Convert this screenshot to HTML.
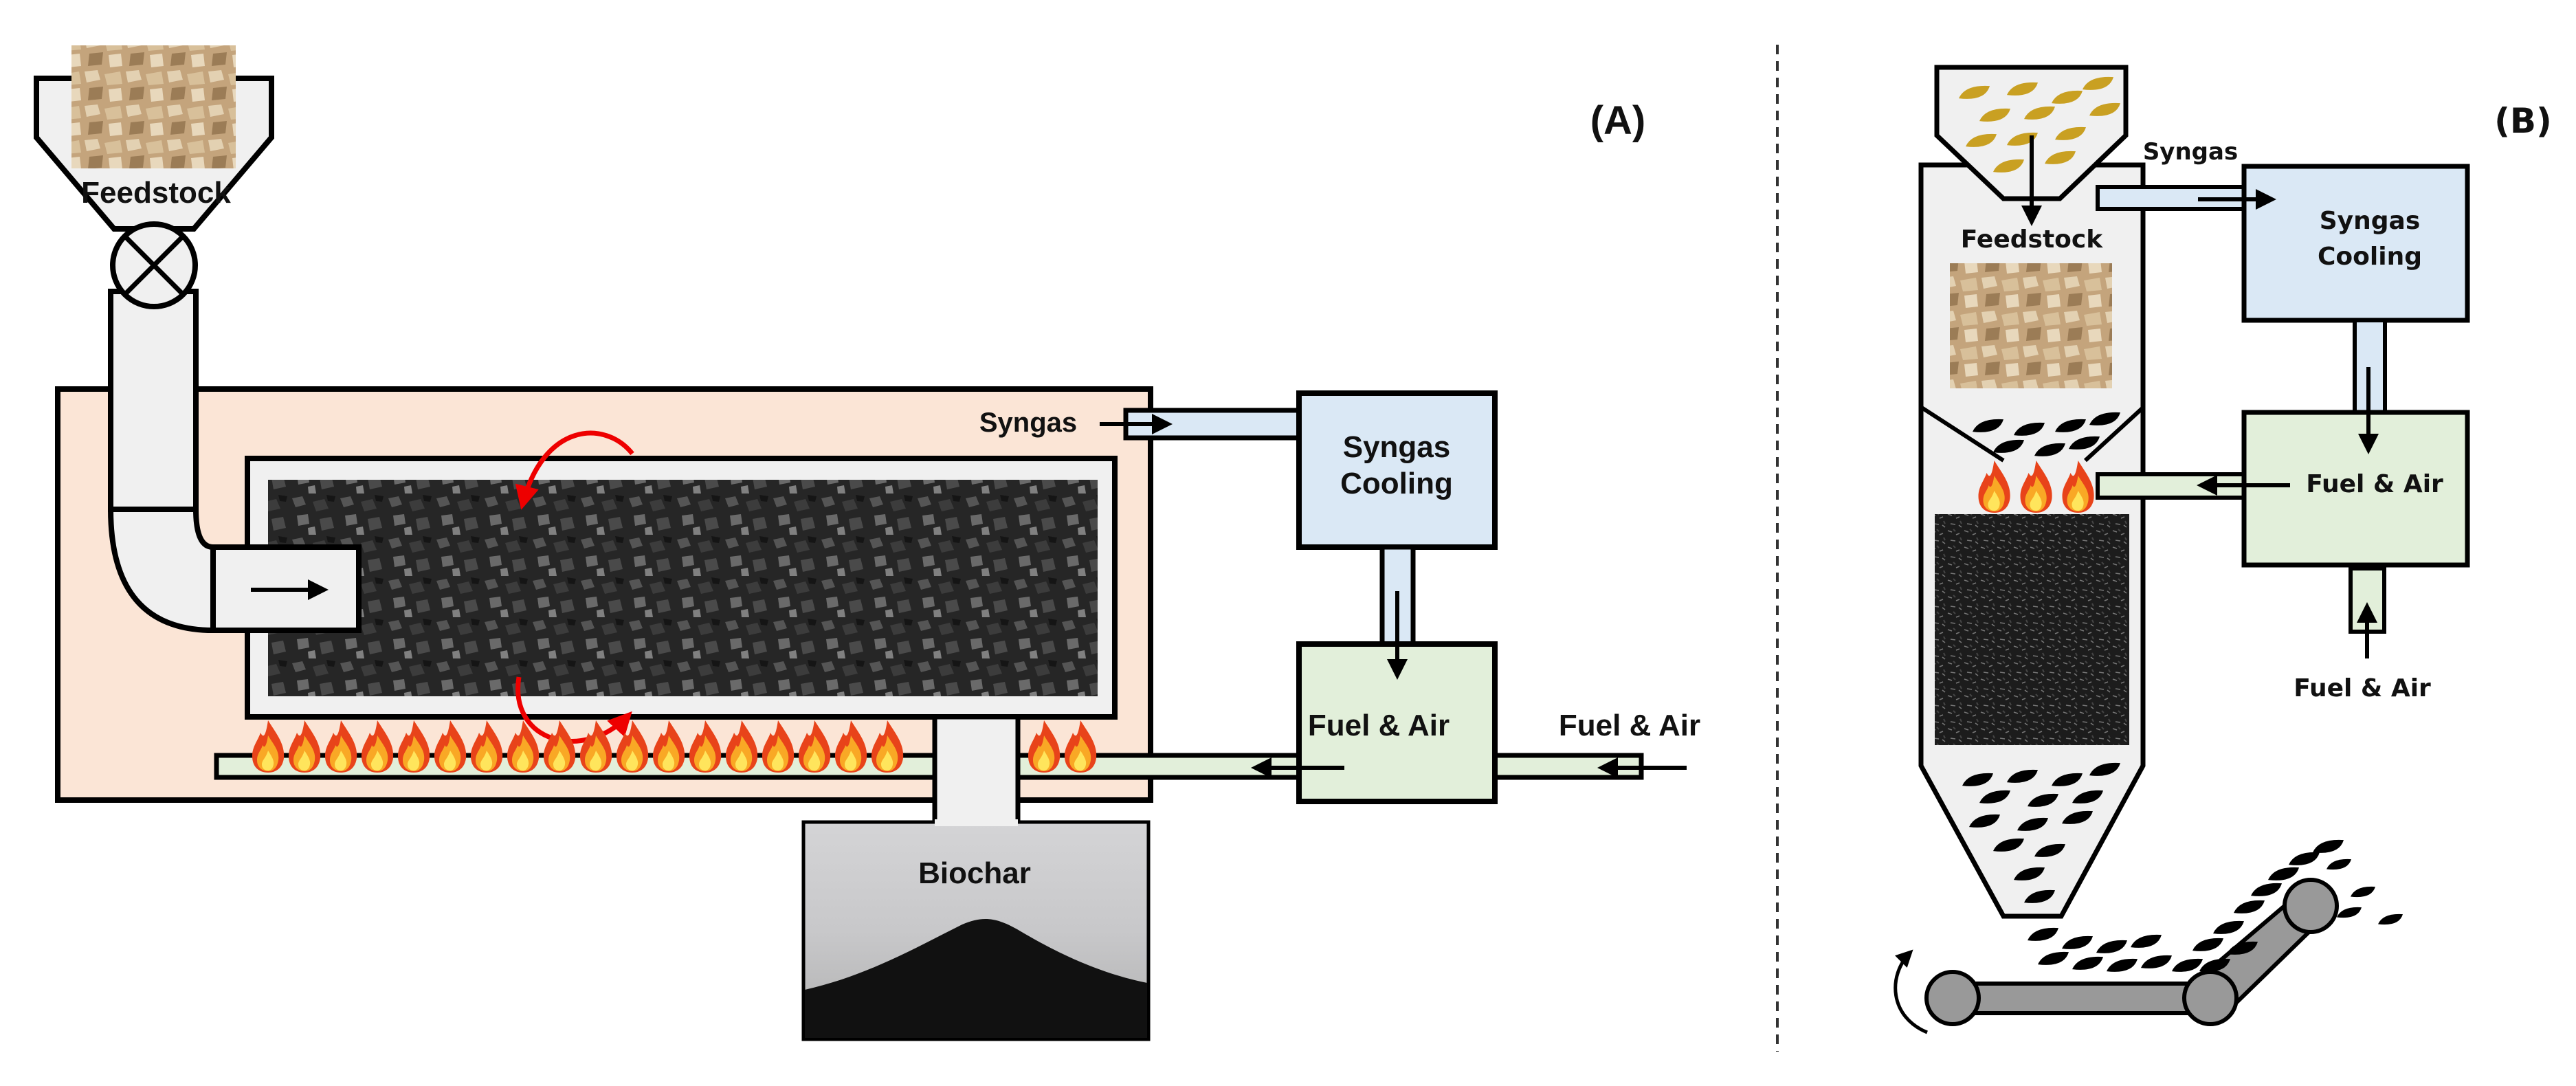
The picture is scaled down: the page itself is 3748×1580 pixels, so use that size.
<!DOCTYPE html>
<html><head><meta charset="utf-8"><style>
html,body{margin:0;padding:0;background:#fff}
svg{display:block}
.a{font-family:"Liberation Sans",sans-serif;font-weight:bold;fill:#111}
.b{font-family:"DejaVu Sans","Liberation Sans",sans-serif;font-weight:bold;fill:#111}
</style></head><body>
<svg width="3748" height="1580" viewBox="0 0 3748 1580" xmlns="http://www.w3.org/2000/svg">
<defs>
<pattern id="coal" width="70" height="60" patternUnits="userSpaceOnUse">
<rect width="70" height="60" fill="#262626"/>
<polygon points="5,5 20,2 25,14 10,18" fill="#555"/>
<polygon points="35,10 52,6 58,20 40,24" fill="#3c3c3c"/>
<polygon points="12,30 28,28 30,42 14,45" fill="#6a6a6a"/>
<polygon points="45,35 62,32 66,48 48,52" fill="#4a4a4a"/>
<polygon points="28,48 38,46 40,58 29,58" fill="#808080"/>
<polygon points="55,0 68,2 66,10 57,9" fill="#151515"/>
</pattern>
<pattern id="coal2" width="24" height="24" patternUnits="userSpaceOnUse">
<rect width="24" height="24" fill="#1c1c1c"/>
<path d="M2,4 l6,2 M14,10 l5,-2 M6,18 l7,1 M18,20 l4,3" stroke="#777" stroke-width="1.5"/>
<path d="M10,2 l3,3 M20,14 l2,4" stroke="#444" stroke-width="2"/>
</pattern>
<pattern id="wood" width="60" height="50" patternUnits="userSpaceOnUse">
<rect width="60" height="50" fill="#c4a47c"/>
<polygon points="3,4 22,2 26,16 6,20" fill="#e3d1b2"/>
<polygon points="32,8 55,4 58,22 36,24" fill="#d8c09a"/>
<polygon points="10,28 30,26 28,44 8,46" fill="#9b7c56"/>
<polygon points="38,30 56,28 58,46 40,48" fill="#e8d8bc"/>
</pattern>
<linearGradient id="bg" x1="0" y1="0" x2="0" y2="1">
<stop offset="0" stop-color="#d4d4d6"/><stop offset="0.5" stop-color="#c8c8ca"/><stop offset="1" stop-color="#b0b0b0"/>
</linearGradient>
<symbol id="fl" viewBox="0 0 50 76" overflow="visible">
<path d="M25,0 C36,18 50,34 48,55 C46,70 36,76 25,76 C12,76 2,68 2,52 C2,38 10,30 14,18 C19,28 22,20 25,0Z" fill="#e8431a"/>
<path d="M25,22 C32,34 42,44 40,58 C38,70 32,74 25,74 C16,74 9,68 9,58 C9,48 15,44 17,36 C20,42 23,36 25,22Z" fill="#f9a825"/>
<path d="M25,44 C30,52 34,58 33,64 C32,71 28,73 25,73 C20,73 16,70 16,64 C16,58 22,55 25,44Z" fill="#ffe55c"/>
</symbol>
<symbol id="lf" viewBox="0 0 40 22" overflow="visible">
<path d="M0,16 Q8,-2 40,0 Q34,20 0,16Z"/>
</symbol>
<marker id="ah" viewBox="0 0 10 10" refX="8" refY="5" markerWidth="5" markerHeight="5" orient="auto"><path d="M0,0 L10,5 L0,10Z" fill="#000"/></marker>
<marker id="ahr" viewBox="0 0 10 10" refX="8" refY="5" markerWidth="5" markerHeight="5" orient="auto"><path d="M0,0 L10,5 L0,10Z" fill="#e00"/></marker>
</defs>

<!-- ===== A ===== -->
<rect x="84" y="566" width="1590" height="598" fill="#fbe5d6" stroke="#000" stroke-width="8"/>
<rect x="360" y="667" width="1262" height="376" fill="#f0f0f0" stroke="#000" stroke-width="8"/>
<rect x="390" y="698" width="1207" height="315" fill="url(#coal)"/>
<polygon points="53,114 395,114 395,200 282,333 166,333 53,200" fill="#f0f0f0" stroke="#000" stroke-width="8"/>
<rect x="104" y="66" width="239" height="179" fill="url(#wood)"/>
<text x="227" y="295" class="a" font-size="44" text-anchor="middle">Feedstock</text>
<rect x="161" y="424" width="124" height="317" fill="#f0f0f0" stroke="#000" stroke-width="8"/>
<path d="M161,741 L285,741 Q285,796 310,796 L310,917 Q161,917 161,741Z" fill="#f0f0f0" stroke="#000" stroke-width="8"/>
<circle cx="224" cy="386" r="60" fill="#f0f0f0" stroke="#000" stroke-width="8"/>
<path d="M182,344 L266,428 M266,344 L182,428" stroke="#000" stroke-width="7"/>
<rect x="310" y="796" width="212" height="121" fill="#f0f0f0" stroke="#000" stroke-width="8"/>
<path d="M920,660 C880,610 790,615 760,735" fill="none" stroke="#e00" stroke-width="7" marker-end="url(#ahr)"/>
<path d="M755,985 C740,1080 850,1110 915,1040" fill="none" stroke="#e00" stroke-width="7" marker-end="url(#ahr)"/>
<rect x="315" y="1099" width="1575" height="32" fill="#e2efda" stroke="#000" stroke-width="7"/>
<rect x="2175" y="1099" width="213" height="32" fill="#e2efda" stroke="#000" stroke-width="7"/>
<g>
<use href="#fl" x="365" y="1048" width="50" height="76"/><use href="#fl" x="418" y="1048" width="50" height="76"/>
<use href="#fl" x="471" y="1048" width="50" height="76"/><use href="#fl" x="524" y="1048" width="50" height="76"/>
<use href="#fl" x="577" y="1048" width="50" height="76"/><use href="#fl" x="630" y="1048" width="50" height="76"/>
<use href="#fl" x="683" y="1048" width="50" height="76"/><use href="#fl" x="736" y="1048" width="50" height="76"/>
<use href="#fl" x="789" y="1048" width="50" height="76"/><use href="#fl" x="842" y="1048" width="50" height="76"/>
<use href="#fl" x="895" y="1048" width="50" height="76"/><use href="#fl" x="948" y="1048" width="50" height="76"/>
<use href="#fl" x="1001" y="1048" width="50" height="76"/><use href="#fl" x="1054" y="1048" width="50" height="76"/>
<use href="#fl" x="1107" y="1048" width="50" height="76"/><use href="#fl" x="1160" y="1048" width="50" height="76"/>
<use href="#fl" x="1213" y="1048" width="50" height="76"/><use href="#fl" x="1266" y="1048" width="50" height="76"/>
<use href="#fl" x="1494" y="1048" width="50" height="76"/><use href="#fl" x="1547" y="1048" width="50" height="76"/>
</g>
<rect x="1360" y="1043" width="121" height="157" fill="#f0f0f0" stroke="#000" stroke-width="7"/>
<rect x="1169" y="1196" width="502" height="316" fill="url(#bg)" stroke="#000" stroke-width="5"/>
<path d="M1171,1440 C1260,1420 1330,1380 1400,1345 C1430,1332 1450,1335 1480,1352 C1560,1400 1620,1420 1669,1430 L1669,1510 L1171,1510Z" fill="#111"/>
<rect x="1360" y="1192" width="121" height="10" fill="#f0f0f0"/>
<text x="1418" y="1285" class="a" font-size="44" text-anchor="middle">Biochar</text>
<rect x="1638" y="597" width="252" height="40" fill="#dae8f5" stroke="#000" stroke-width="7"/>
<text x="1496" y="628" class="a" font-size="40" text-anchor="middle">Syngas</text>
<rect x="1890" y="572" width="285" height="224" fill="#dae8f5" stroke="#000" stroke-width="8"/>
<text x="2032" y="665" class="a" font-size="44" text-anchor="middle">Syngas</text>
<text x="2032" y="718" class="a" font-size="44" text-anchor="middle">Cooling</text>
<rect x="2011" y="796" width="45" height="141" fill="#dae8f5" stroke="#000" stroke-width="7"/>
<rect x="1890" y="937" width="285" height="229" fill="#e2efda" stroke="#000" stroke-width="8"/>
<text x="2006" y="1070" class="a" font-size="44" text-anchor="middle">Fuel &amp; Air</text>
<text x="2371" y="1070" class="a" font-size="44" text-anchor="middle">Fuel &amp; Air</text>
<text x="2354" y="195" class="a" font-size="58" text-anchor="middle">(A)</text>

<line x1="2586" y1="65" x2="2586" y2="1530" stroke="#333" stroke-width="4" stroke-dasharray="14,10"/>

<!-- ===== B ===== -->
<path d="M2795,240 L2795,1114 L2915,1333 L2999,1333 L3118,1114 L3118,240Z" fill="#f0f0f0" stroke="#000" stroke-width="7"/>
<polygon points="2818,98 3093,98 3093,197 2997,289 2915,289 2818,197" fill="#f0f0f0" stroke="#000" stroke-width="7"/>
<g fill="#c9a022">
<use href="#lf" x="2850" y="125" width="45" height="25"/><use href="#lf" x="2920" y="120" width="45" height="25"/>
<use href="#lf" x="2985" y="132" width="45" height="25"/><use href="#lf" x="3030" y="112" width="45" height="25"/>
<use href="#lf" x="2880" y="158" width="45" height="25"/><use href="#lf" x="2945" y="155" width="45" height="25"/>
<use href="#lf" x="3040" y="150" width="45" height="25"/><use href="#lf" x="2860" y="195" width="45" height="25"/>
<use href="#lf" x="2920" y="193" width="45" height="25"/><use href="#lf" x="2990" y="185" width="45" height="25"/>
<use href="#lf" x="2900" y="232" width="45" height="25"/><use href="#lf" x="2975" y="220" width="45" height="25"/>
</g>
<text x="2956" y="360" class="b" font-size="36" text-anchor="middle">Feedstock</text>
<rect x="2837" y="383" width="236" height="182" fill="url(#wood)"/>
<path d="M2796,593 L2915,670 M3118,593 L3034,670" stroke="#000" stroke-width="6"/>
<g fill="#000">
<use href="#lf" x="2870" y="610" width="45" height="25"/><use href="#lf" x="2930" y="615" width="45" height="25"/>
<use href="#lf" x="2990" y="610" width="45" height="25"/><use href="#lf" x="3040" y="600" width="45" height="25"/>
<use href="#lf" x="2900" y="640" width="45" height="25"/><use href="#lf" x="2960" y="645" width="45" height="25"/>
<use href="#lf" x="3010" y="635" width="45" height="25"/>
</g>
<use href="#fl" x="2874" y="670" width="55" height="76"/><use href="#fl" x="2935" y="670" width="55" height="76"/><use href="#fl" x="2996" y="670" width="55" height="76"/>
<rect x="2815" y="748" width="283" height="336" fill="url(#coal2)"/>
<g fill="#000">
<use href="#lf" x="2855" y="1125" width="45" height="25"/><use href="#lf" x="2920" y="1120" width="45" height="25"/>
<use href="#lf" x="2985" y="1125" width="45" height="25"/><use href="#lf" x="3040" y="1110" width="45" height="25"/>
<use href="#lf" x="2880" y="1150" width="45" height="25"/><use href="#lf" x="2950" y="1155" width="45" height="25"/>
<use href="#lf" x="3015" y="1150" width="45" height="25"/><use href="#lf" x="2865" y="1185" width="45" height="25"/>
<use href="#lf" x="2935" y="1190" width="45" height="25"/><use href="#lf" x="3000" y="1180" width="45" height="25"/>
<use href="#lf" x="2900" y="1220" width="45" height="25"/><use href="#lf" x="2960" y="1228" width="45" height="25"/>
<use href="#lf" x="2930" y="1262" width="45" height="25"/><use href="#lf" x="2945" y="1295" width="45" height="25"/>
</g>
<rect x="3052" y="272" width="213" height="32" fill="#dae8f5" stroke="#000" stroke-width="6"/>
<text x="3187" y="232" class="b" font-size="34" text-anchor="middle">Syngas</text>
<rect x="3265" y="242" width="325" height="224" fill="#dae8f5" stroke="#000" stroke-width="7"/>
<text x="3448" y="333" class="b" font-size="36" text-anchor="middle">Syngas</text>
<text x="3448" y="385" class="b" font-size="36" text-anchor="middle">Cooling</text>
<rect x="3426" y="466" width="44" height="149" fill="#dae8f5" stroke="#000" stroke-width="6"/>
<rect x="3052" y="690" width="213" height="34" fill="#e2efda" stroke="#000" stroke-width="6"/>
<rect x="3265" y="600" width="325" height="222" fill="#e2efda" stroke="#000" stroke-width="7"/>
<text x="3455" y="716" class="b" font-size="36" text-anchor="middle">Fuel &amp; Air</text>
<rect x="3420" y="827" width="49" height="92" fill="#e2efda" stroke="#000" stroke-width="6"/>
<text x="3437" y="1013" class="b" font-size="36" text-anchor="middle">Fuel &amp; Air</text>
<text x="3671" y="193" class="b" font-size="50" text-anchor="middle">(B)</text>
<path d="M2804,1502 C2750,1480 2745,1420 2780,1385" fill="none" stroke="#000" stroke-width="5" marker-end="url(#ah)"/>
<polygon points="2841,1431 3216,1431 3216,1474 2841,1474" fill="#999" stroke="#000" stroke-width="6"/>
<polygon points="3198,1425 3345,1300 3380,1336 3234,1478" fill="#999" stroke="#000" stroke-width="6"/>
<circle cx="2841" cy="1452" r="38" fill="#999" stroke="#000" stroke-width="6"/>
<circle cx="3216" cy="1452" r="38" fill="#999" stroke="#000" stroke-width="6"/>
<circle cx="3362" cy="1318" r="38" fill="#999" stroke="#000" stroke-width="6"/>
<g fill="#000">
<use href="#lf" x="2950" y="1350" width="45" height="25"/><use href="#lf" x="3000" y="1362" width="45" height="25"/>
<use href="#lf" x="3050" y="1368" width="45" height="25"/><use href="#lf" x="3100" y="1360" width="45" height="25"/>
<use href="#lf" x="2965" y="1385" width="45" height="25"/><use href="#lf" x="3015" y="1392" width="45" height="25"/>
<use href="#lf" x="3065" y="1395" width="45" height="25"/><use href="#lf" x="3115" y="1390" width="45" height="25"/>
<use href="#lf" x="3160" y="1395" width="45" height="25"/><use href="#lf" x="3190" y="1365" width="45" height="25"/>
<use href="#lf" x="3220" y="1340" width="45" height="25"/><use href="#lf" x="3250" y="1310" width="45" height="25"/>
<use href="#lf" x="3275" y="1285" width="45" height="25"/><use href="#lf" x="3300" y="1262" width="45" height="25"/>
<use href="#lf" x="3330" y="1240" width="45" height="25"/><use href="#lf" x="3365" y="1222" width="45" height="25"/>
<use href="#lf" x="3200" y="1395" width="45" height="25"/><use href="#lf" x="3240" y="1370" width="45" height="25"/>
<use href="#lf" x="3385" y="1250" width="36" height="20"/><use href="#lf" x="3420" y="1290" width="36" height="20"/>
<use href="#lf" x="3400" y="1320" width="36" height="20"/><use href="#lf" x="3460" y="1330" width="36" height="20"/>
</g>

<!-- arrows on top -->
<g stroke="#000" stroke-width="6" marker-end="url(#ah)">
<line x1="365" y1="858" x2="472" y2="858"/>
<line x1="1600" y1="617" x2="1700" y2="617"/>
<line x1="2033" y1="860" x2="2033" y2="983"/>
<line x1="1956" y1="1117" x2="1826" y2="1117"/>
<line x1="2454" y1="1117" x2="2330" y2="1117"/>
<line x1="2956" y1="197" x2="2956" y2="323"/>
<line x1="3198" y1="290" x2="3306" y2="290"/>
<line x1="3446" y1="534" x2="3446" y2="655"/>
<line x1="3332" y1="706" x2="3202" y2="706"/>
<line x1="3444" y1="958" x2="3444" y2="882"/>
</g>
</svg>
</body></html>
